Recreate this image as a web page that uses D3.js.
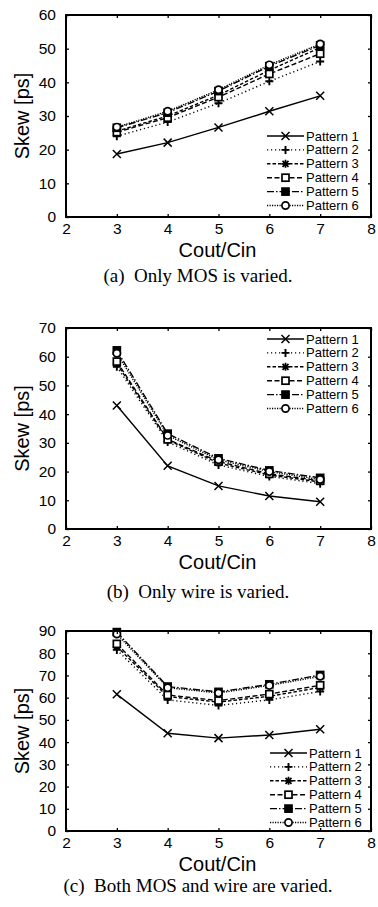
<!DOCTYPE html>
<html>
<head>
<meta charset="utf-8">
<script src="https://cdn.jsdelivr.net/npm/d3@7"></script>
<style>
  html, body { margin: 0; padding: 0; background: #fff; }
  svg { display: block; }
</style>
</head>
<body>
<div id="chart"></div>
<script>
// x values and legend names
const ratios = [3, 4, 5, 6, 7];
const patternNames = ["Pattern 1", "Pattern 2", "Pattern 3", "Pattern 4", "Pattern 5", "Pattern 6"];

// (a) only MOS varied, one row per pattern
const mosSkew = [
  [18.7, 22.1, 26.6, 31.4, 36.0],
  [24.0, 28.2, 33.8, 40.3, 46.2],
  [25.5, 30.0, 36.2, 43.6, 50.3],
  [25.2, 29.5, 35.6, 42.5, 48.5],
  [26.5, 31.0, 37.4, 44.8, 51.0],
  [26.7, 31.4, 37.8, 45.2, 51.4]
];
// (b) only wire varied
const wireSkew = [
  [43.0, 22.0, 15.0, 11.5, 9.5],
  [56.5, 30.3, 22.3, 18.3, 15.8],
  [57.5, 31.0, 23.0, 18.8, 16.4],
  [58.3, 31.2, 23.5, 19.2, 16.8],
  [62.2, 33.2, 24.6, 20.4, 17.8],
  [61.2, 32.6, 24.1, 20.0, 17.2]
];
// (c) both varied
const bothSkew = [
  [61.5, 44.0, 41.8, 43.2, 45.8],
  [81.5, 59.0, 56.5, 59.0, 62.8],
  [83.0, 60.5, 58.0, 60.6, 64.6],
  [84.2, 61.2, 58.7, 61.6, 65.6],
  [89.5, 65.0, 62.6, 66.0, 70.2],
  [88.6, 64.5, 62.1, 65.5, 69.6]
];

const xTicks = [2, 3, 4, 5, 6, 7, 8];
const captions = ["(a)\u00a0 Only MOS is varied.", "(b)\u00a0 Only wire is varied.", "(c)\u00a0 Both MOS and wire are varied."];

const width = 378;
const height = 907;

// line style per pattern: dash, marker
const STYLE = [
  { dash: null, marker: "x" },
  { dash: "1.2,2.8", marker: "plus" },
  { dash: "3.5,2", marker: "star" },
  { dash: "5,2.5", marker: "square" },
  { dash: "7,2,1.5,2", marker: "fsquare" },
  { dash: "1.2,1.3", marker: "circle" }
];

const svg = d3.select("#chart").append("svg")
  .attr("width", width)
  .attr("height", height)
  .attr("viewBox", [0, 0, width, height]);

function drawMarker(g, kind, cx, cy) {
  const s = 4;
  if (kind === "x") {
    g.append("path").attr("d", `M${cx - s},${cy - s}L${cx + s},${cy + s}M${cx - s},${cy + s}L${cx + s},${cy - s}`)
      .attr("stroke", "#000").attr("stroke-width", 1.5).attr("fill", "none");
  } else if (kind === "plus") {
    g.append("path").attr("d", `M${cx - s},${cy}L${cx + s},${cy}M${cx},${cy - s}L${cx},${cy + s}`)
      .attr("stroke", "#000").attr("stroke-width", 1.9).attr("fill", "none");
  } else if (kind === "star") {
    const t = s * 0.75;
    g.append("path").attr("d", `M${cx - s},${cy}L${cx + s},${cy}M${cx},${cy - s}L${cx},${cy + s}M${cx - t},${cy - t}L${cx + t},${cy + t}M${cx - t},${cy + t}L${cx + t},${cy - t}`)
      .attr("stroke", "#000").attr("stroke-width", 1.7).attr("fill", "none");
  } else if (kind === "square" || kind === "fsquare") {
    g.append("rect").attr("x", cx - 3.5).attr("y", cy - 3.5).attr("width", 7).attr("height", 7)
      .attr("fill", kind === "fsquare" ? "#000" : "#fff").attr("stroke", "#000").attr("stroke-width", 1.7);
  } else if (kind === "circle") {
    g.append("circle").attr("cx", cx).attr("cy", cy).attr("r", 3.6)
      .attr("fill", "#fff").attr("stroke", "#000").attr("stroke-width", 1.7);
  }
}

function drawPanel(opt) {
  const { top, bottom, yMax, series, legendTop, legendX, caption, capY } = opt;
  const left = 66, right = 371;
  const g = svg.append("g");

  const x = d3.scaleLinear().domain([2, 8]).range([left, right]);
  const y = d3.scaleLinear().domain([0, yMax]).range([bottom, top]);
  const yTicks = d3.range(0, yMax + 1, 10);

  // lines and markers
  series.forEach((vals, i) => {
    const pts = ratios.map((r, j) => [x(r), y(vals[j])]);
    g.append("path")
      .attr("d", d3.line()(pts))
      .attr("fill", "none")
      .attr("stroke", "#000")
      .attr("stroke-width", 1.4)
      .attr("stroke-dasharray", STYLE[i].dash);
  });
  series.forEach((vals, i) => {
    ratios.forEach((r, j) => drawMarker(g, STYLE[i].marker, x(r), y(vals[j])));
  });

  // ticks on all four sides, pointing inward
  const axes = g.append("g").attr("class", "axes");
  axes.append("g").attr("transform", `translate(0,${bottom})`)
    .call(d3.axisBottom(x).tickValues(xTicks).tickSize(-3).tickPadding(6).tickFormat(d3.format("d")));
  axes.append("g").attr("transform", `translate(0,${top})`)
    .call(d3.axisTop(x).tickValues(xTicks).tickSize(-3).tickFormat(""));
  axes.append("g").attr("transform", `translate(${left},0)`)
    .call(d3.axisLeft(y).tickValues(yTicks).tickSize(-3).tickPadding(10).tickFormat(d3.format("d")));
  axes.append("g").attr("transform", `translate(${right},0)`)
    .call(d3.axisRight(y).tickValues(yTicks).tickSize(-3).tickFormat(""));
  axes.selectAll(".domain").remove();
  axes.selectAll(".tick line").attr("stroke", "#000").attr("stroke-width", 1.3);
  axes.selectAll(".tick text")
    .attr("font-family", "Liberation Sans, Arial, sans-serif")
    .attr("font-size", 15.5)
    .attr("fill", "#000");

  g.append("rect")
    .attr("x", left).attr("y", top)
    .attr("width", right - left).attr("height", bottom - top)
    .attr("fill", "none").attr("stroke", "#000").attr("stroke-width", 2);

  // axis titles
  g.append("text")
    .attr("transform", `translate(22,${(top + bottom) / 2}) rotate(-90)`)
    .attr("text-anchor", "middle")
    .attr("dominant-baseline", "central")
    .attr("font-family", "Liberation Sans, Arial, sans-serif")
    .attr("font-size", 20)
    .text("Skew [ps]");
  g.append("text")
    .attr("x", (left + right) / 2 - 1)
    .attr("y", bottom + 40)
    .attr("text-anchor", "middle")
    .attr("font-family", "Liberation Sans, Arial, sans-serif")
    .attr("font-size", 20)
    .text("Cout/Cin");

  // legend
  const lg = g.append("g");
  patternNames.forEach((name, i) => {
    const ly = legendTop + i * 13.9;
    lg.append("line")
      .attr("x1", legendX).attr("x2", legendX + 37)
      .attr("y1", ly).attr("y2", ly)
      .attr("stroke", "#000").attr("stroke-width", 1.4)
      .attr("stroke-dasharray", STYLE[i].dash);
    drawMarker(lg, STYLE[i].marker, legendX + 18.5, ly);
    lg.append("text")
      .attr("x", legendX + 39).attr("y", ly)
      .attr("dominant-baseline", "central")
      .attr("font-family", "Liberation Sans, Arial, sans-serif")
      .attr("font-size", 13)
      .text(name);
  });

  // caption
  g.append("text")
    .attr("x", 198).attr("y", capY)
    .attr("text-anchor", "middle")
    .attr("font-family", "Liberation Serif, Times New Roman, serif")
    .attr("font-size", 19)
    .text(caption);
}

drawPanel({ top: 15, bottom: 217, yMax: 60, series: mosSkew, legendTop: 136, legendX: 267, caption: captions[0], capY: 282 });
drawPanel({ top: 328, bottom: 529, yMax: 70, series: wireSkew, legendTop: 339, legendX: 267, caption: captions[1], capY: 598 });
drawPanel({ top: 631, bottom: 831, yMax: 90, series: bothSkew, legendTop: 753, legendX: 270, caption: captions[2], capY: 892 });
</script>
</body>
</html>
